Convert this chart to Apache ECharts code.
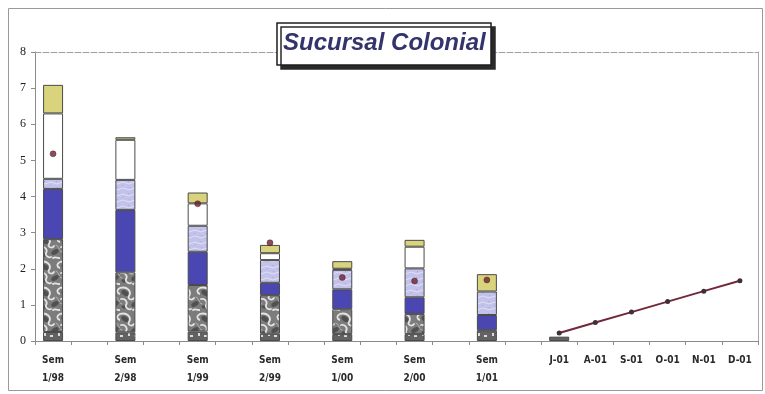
<!DOCTYPE html>
<html>
<head>
<meta charset="utf-8">
<script src="https://cdn.jsdelivr.net/npm/echarts@6/dist/echarts.min.js"></script>
<style>
  html, body { margin: 0; padding: 0; background: #ffffff; }
  #chart { width: 765px; height: 394px; }
</style>
</head>
<body>
<div id="chart"></div>
<script>
// Semester columns (stacked components) followed by the monthly 2001 trend
const semesters = ['1/98', '2/98', '1/99', '2/99', '1/00', '2/00', '1/01'];
const months = ['J-01', 'A-01', 'S-01', 'O-01', 'N-01', 'D-01'];
const yTicks = [0, 1, 2, 3, 4, 5, 6, 7, 8];

// Stack components per semester, bottom to top
const baseSeg   = [0.25, 0.24, 0.26, 0.20, 0.19, 0.19, 0.30];
const marbleSeg = [2.57, 1.66, 1.29, 1.07, 0.69, 0.56, null];
const blueSeg   = [1.39, 1.73, 0.92, 0.34, 0.55, 0.46, 0.42];
const lilacSeg  = [0.28, 0.83, 0.72, 0.63, 0.54, 0.80, 0.65];
const whiteSeg  = [1.81, 1.11, 0.62, 0.19, 0.03, 0.60, null];
const yellowSeg = [0.79, 0.07, 0.30, 0.23, 0.21, 0.19, 0.48];
// Marker value per semester
const semDots   = [5.18, null, 3.80, 2.72, 1.76, 1.66, 1.69];
// Monthly values
const monthBase = [0.12, null, null, null, null, null];
const monthLine = [0.22, 0.51, 0.80, 1.09, 1.38, 1.67];

// Category slots: each semester followed by an empty spacer, then the months
const categories = [];
semesters.forEach(s => { categories.push('Sem\n' + s); categories.push(''); });
months.forEach(m => categories.push(m));

function semSlots(arr, monthArr) {
  const out = [];
  arr.forEach(v => { out.push(v); out.push(null); });
  months.forEach((m, i) => out.push(monthArr ? monthArr[i] : null));
  return out;
}
function monthSlots(arr) {
  const out = [];
  semesters.forEach(() => { out.push(null); out.push(null); });
  arr.forEach(v => out.push(v));
  return out;
}

// Fill textures
function canvasOf(w, h) {
  const c = document.createElement('canvas');
  c.width = w; c.height = h;
  return c;
}
function marbleTexture() {
  const c = canvasOf(20, 26), g = c.getContext('2d');
  g.fillStyle = '#7c7c7c'; g.fillRect(0, 0, 20, 26);
  g.fillStyle = '#505050';
  g.beginPath(); g.ellipse(5, 7, 4, 2.5, 0.6, 0, Math.PI * 2); g.fill();
  g.beginPath(); g.ellipse(15, 18, 4, 2.2, -0.5, 0, Math.PI * 2); g.fill();
  g.beginPath(); g.ellipse(4, 21, 2.5, 1.6, 0.2, 0, Math.PI * 2); g.fill();
  g.strokeStyle = '#e4e4e4'; g.lineWidth = 1.8; g.lineCap = 'round';
  g.beginPath(); g.moveTo(0, 2); g.bezierCurveTo(7, 0, 12, 5, 9, 10); g.bezierCurveTo(7, 13, 12, 15, 14, 12); g.stroke();
  g.beginPath(); g.moveTo(20, 2); g.bezierCurveTo(16, 4, 17, 7, 20, 8); g.stroke();
  g.beginPath(); g.moveTo(1, 13); g.bezierCurveTo(5, 12, 8, 16, 6, 19); g.bezierCurveTo(5, 22, 9, 24, 11, 23); g.stroke();
  g.beginPath(); g.moveTo(13, 24); g.bezierCurveTo(16, 22, 19, 25, 20, 24); g.stroke();
  g.strokeStyle = '#b4b4b4'; g.lineWidth = 1;
  g.beginPath(); g.moveTo(16, 11); g.bezierCurveTo(19, 12, 18, 15, 20, 16); g.stroke();
  g.beginPath(); g.moveTo(0, 17); g.lineTo(2, 18); g.stroke();
  return c;
}
function lilacTexture() {
  const c = canvasOf(12, 12), g = c.getContext('2d');
  g.fillStyle = '#c3c2ea'; g.fillRect(0, 0, 12, 12);
  g.strokeStyle = '#dedef6'; g.lineWidth = 1;
  g.beginPath(); g.moveTo(0, 3); g.quadraticCurveTo(3, 1, 6, 3); g.quadraticCurveTo(9, 5, 12, 3); g.stroke();
  g.beginPath(); g.moveTo(0, 9); g.quadraticCurveTo(3, 7, 6, 9); g.quadraticCurveTo(9, 11, 12, 9); g.stroke();
  g.fillStyle = '#a9a8da';
  g.fillRect(2, 5, 1, 1); g.fillRect(8, 1, 1, 1); g.fillRect(9, 7, 1, 1);
  return c;
}
function baseTexture() {
  const c = canvasOf(14, 10), g = c.getContext('2d');
  g.fillStyle = '#626262'; g.fillRect(0, 0, 14, 10);
  g.fillStyle = '#dcdcdc';
  g.fillRect(2, 3, 2, 3); g.fillRect(8, 5, 3, 2);
  return c;
}

const outline = { borderColor: '#4a4a4a', borderWidth: 1 };
function barSeries(name, values, monthValues, color) {
  return {
    name: name,
    type: 'bar',
    stack: 'total',
    barWidth: 20,
    data: semSlots(values, monthValues),
    itemStyle: Object.assign({ color: color }, outline),
    z: 2
  };
}

const axisFont = 'Liberation Sans Narrow, DejaVu Sans Condensed, Arial Narrow, Liberation Sans, sans-serif';

const chart = echarts.init(document.getElementById('chart'), null, { renderer: 'canvas' });
chart.setOption({
  animation: false,
  backgroundColor: '#ffffff',
  title: {
    text: 'Sucursal Colonial',
    left: 277,
    top: 23,
    padding: [8, 6, 10, 6],
    backgroundColor: '#ffffff',
    borderColor: '#1e1e1e',
    borderWidth: 1.5,
    shadowColor: '#2a2a2a',
    shadowBlur: 0,
    shadowOffsetX: 4,
    shadowOffsetY: 4,
    textStyle: {
      fontFamily: 'Liberation Sans, Arial, sans-serif',
      fontSize: 24,
      fontWeight: 'bold',
      fontStyle: 'italic',
      color: '#34346c'
    },
    z: 10
  },
  graphic: [{
    type: 'rect',
    shape: { x: 8.5, y: 8.5, width: 754, height: 382 },
    style: { fill: 'none', stroke: '#9a9a9a', lineWidth: 1 },
    silent: true,
    z: -1
  }],
  grid: { left: 35, right: 7, top: 52, bottom: 53 },
  xAxis: [{
    type: 'category',
    data: categories,
    boundaryGap: true,
    axisLine: { show: true, onZero: false, lineStyle: { color: '#8a8a8a', width: 1 } },
    axisTick: { show: true, interval: 0, length: 4, lineStyle: { color: '#8a8a8a' } },
    axisLabel: {
      interval: 0,
      margin: 10,
      fontFamily: axisFont,
      fontSize: 10,
      fontWeight: 'bold',
      lineHeight: 18,
      color: '#2a2a2a'
    },
    splitLine: { show: false }
  }, {
    type: 'category',
    data: categories,
    position: 'top',
    axisLine: { show: true, onZero: false, lineStyle: { color: '#a0a0a0', width: 1, type: [6, 2] } },
    axisTick: { show: false },
    axisLabel: { show: false }
  }],
  yAxis: [{
    type: 'value',
    min: yTicks[0],
    max: yTicks[yTicks.length - 1],
    interval: 1,
    axisLine: { show: true, onZero: false, lineStyle: { color: '#8a8a8a', width: 1 } },
    axisTick: { show: true, length: 4, lineStyle: { color: '#8a8a8a' } },
    axisLabel: {
      margin: 9,
      fontFamily: 'Liberation Serif, Times New Roman, serif',
      fontSize: 12,
      color: '#222222'
    },
    splitLine: { show: false }
  }, {
    type: 'value',
    min: yTicks[0],
    max: yTicks[yTicks.length - 1],
    position: 'right',
    axisLine: { show: true, onZero: false, lineStyle: { color: '#a8a8a8', width: 1 } },
    axisTick: { show: false },
    axisLabel: { show: false },
    splitLine: { show: false }
  }],
  series: [
    barSeries('base', baseSeg, monthBase, { image: baseTexture(), repeat: 'repeat' }),
    barSeries('marble', marbleSeg, null, { image: marbleTexture(), repeat: 'repeat' }),
    barSeries('blue', blueSeg, null, '#4a47b3'),
    barSeries('lilac', lilacSeg, null, { image: lilacTexture(), repeat: 'repeat' }),
    barSeries('white', whiteSeg, null, '#ffffff'),
    barSeries('yellow', yellowSeg, null, '#d8d37c'),
    {
      name: 'semMarker',
      type: 'scatter',
      data: semSlots(semDots, null),
      symbol: 'circle',
      symbolSize: 6,
      itemStyle: { color: '#6e2030', borderColor: '#3a1a20', borderWidth: 0.5 },
      z: 5
    },
    {
      name: 'monthly',
      type: 'line',
      data: monthSlots(monthLine),
      symbol: 'circle',
      symbolSize: 5,
      showSymbol: true,
      lineStyle: { color: '#72283a', width: 2 },
      itemStyle: { color: '#3e3038' },
      z: 5
    }
  ]
});
</script>
</body>
</html>
